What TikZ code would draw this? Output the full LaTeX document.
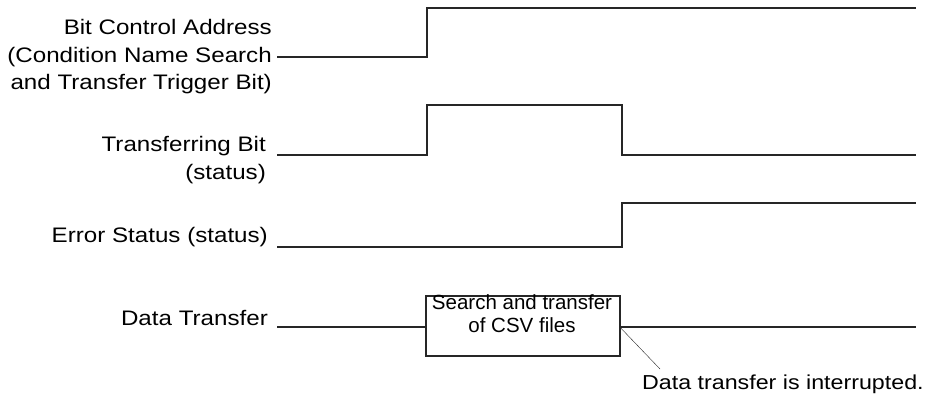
\documentclass[tikz,border=0pt]{standalone}
\usepackage{fontspec}
\setmainfont{Liberation Sans}[FakeStretch=1.15]
\newfontfamily\boxfont{Liberation Sans}
\usetikzlibrary{positioning}
\tikzset{
  wave/.style={line width=1.5pt, black!85, line join=miter},
  sig/.style={anchor=east, align=right, inner sep=0pt, font=\fontsize{21}{27.5}\selectfont},
}
\begin{document}
\begin{tikzpicture}[x=1pt, y=-1pt]
  \useasboundingbox (0,0) rectangle (928,402);
  % signal names
  \node[sig] (ctrl) at (272,57) {Bit Control Address\\(Condition Name Search\\and Transfer Trigger Bit)};
  \node[sig] (busy) at (266,160) {Transferring Bit\\(status)};
  \node[sig] (err) at (268,237) {Error Status (status)};
  \node[sig] (data) at (268,318) {Data Transfer};
  % waveforms
  \draw[wave] (277,57) -- (427,57) -- (427,8) -- (916,8);
  \draw[wave] (277,155) -- (427,155) -- (427,105) -- (622,105) -- (622,155) -- (916,155);
  \draw[wave] (277,247) -- (622,247) -- (622,203) -- (916,203);
  % data transfer
  \node[draw, line width=1.5pt, black!85, minimum width=194pt, minimum height=60pt, inner sep=0pt]
    (csvbox) at (523,326) {};
  \node[align=center, inner sep=0pt, font=\boxfont\fontsize{20.5}{23}\selectfont] (csvtext) at (522,314)
    {Search and transfer\\of CSV files};
  \draw[wave] (277,327) -- (csvbox.west |- 0,327);
  \draw[wave] (csvbox.east |- 0,327) -- (916,327);
  \node[anchor=north west, inner sep=0pt, font=\fontsize{20.2}{27.5}\selectfont] (intr) at (642,375)
    {Data transfer is interrupted.};
  \draw[black!85] (csvbox.east |- 0,328) -- ([xshift=18pt,yshift=6pt]intr.north west);
\end{tikzpicture}
\end{document}
